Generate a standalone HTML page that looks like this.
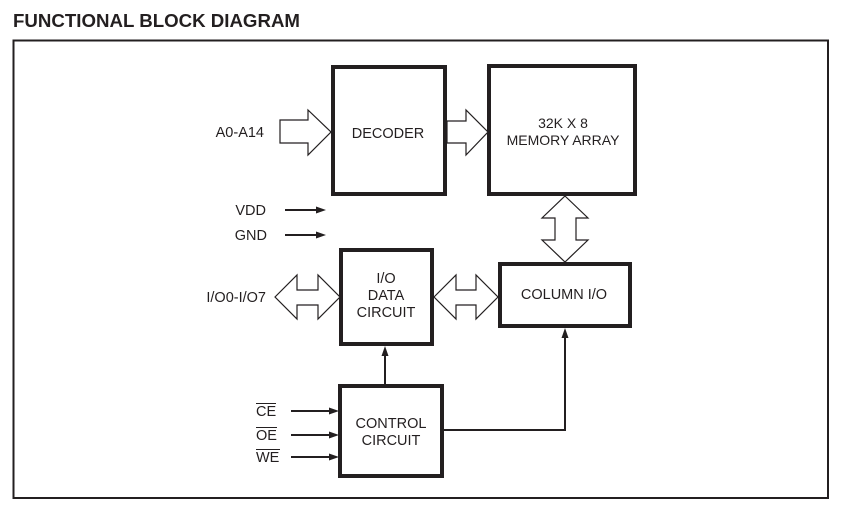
<!DOCTYPE html>
<html><head><style>
html,body{margin:0;padding:0;background:#fff;}
svg{display:block}
text{font-family:"Liberation Sans",Arial,sans-serif;fill:#231f20;}
</style></head><body>
<svg width="842" height="506" viewBox="0 0 842 506" xmlns="http://www.w3.org/2000/svg">
<text x="13" y="27" font-size="18.5" font-weight="bold" textLength="287" lengthAdjust="spacingAndGlyphs">FUNCTIONAL BLOCK DIAGRAM</text>
<rect x="13.5" y="40.5" width="814.5" height="457.5" fill="none" stroke="#231f20" stroke-width="2"/>
<g fill="none" stroke="#231f20" stroke-width="4">
<rect x="333" y="67" width="112" height="127"/>
<rect x="489" y="66" width="146" height="128"/>
<rect x="341" y="250" width="91" height="94"/>
<rect x="500" y="264" width="130" height="62"/>
<rect x="340" y="386" width="102" height="90"/>
</g>
<g fill="#fff" stroke="#231f20" stroke-width="1.2">
<polygon points="280,120 308,120 308,110 331,132 308,155 308,143 280,143"/>
<polygon points="447,121 466,121 466,110 488,132 466,155 466,143 447,143"/>
<polygon points="275,297 297,275 297,290 318,290 318,275 340,297 318,319 318,305 297,305 297,319"/>
<polygon points="434,297 456,275 456,290 476,290 476,275 498,297 476,319 476,305 456,305 456,319"/>
<polygon points="565,196 588,218 576,218 576,240 588,240 565,262 542,240 555,240 555,218 542,218"/>
</g>
<g stroke="#231f20" stroke-width="2" fill="none">
<line x1="285" y1="210" x2="318" y2="210"/>
<line x1="285" y1="235" x2="318" y2="235"/>
<line x1="291" y1="411" x2="332" y2="411"/>
<line x1="291" y1="435" x2="332" y2="435"/>
<line x1="291" y1="457" x2="332" y2="457"/>
<line x1="385" y1="385" x2="385" y2="354"/>
<polyline points="443,430 565,430 565,336"/>
</g>
<g fill="#231f20">
<polygon points="326,210 316,206.5 316,213.5"/>
<polygon points="326,235 316,231.5 316,238.5"/>
<polygon points="339,411 329,407.5 329,414.5"/>
<polygon points="339,435 329,431.5 329,438.5"/>
<polygon points="339,457 329,453.5 329,460.5"/>
<polygon points="385,346 381.5,356 388.5,356"/>
<polygon points="565,328 561.5,338 568.5,338"/>
</g>
<g font-size="14.5">
<text x="264" y="137" text-anchor="end">A0-A14</text>
<text x="388" y="138" text-anchor="middle">DECODER</text>
<text x="563" y="128" text-anchor="middle" font-size="14">32K X 8</text>
<text x="563" y="145" text-anchor="middle" font-size="14">MEMORY ARRAY</text>
<text x="266" y="215" text-anchor="end">VDD</text>
<text x="267" y="240" text-anchor="end">GND</text>
<text x="266" y="302" text-anchor="end">I/O0-I/O7</text>
<text x="386" y="283" text-anchor="middle">I/O</text>
<text x="386" y="300" text-anchor="middle">DATA</text>
<text x="386" y="317" text-anchor="middle">CIRCUIT</text>
<text x="564" y="299" text-anchor="middle">COLUMN I/O</text>
<text x="391" y="428" text-anchor="middle">CONTROL</text>
<text x="391" y="445" text-anchor="middle">CIRCUIT</text>
<text x="256" y="416">CE</text>
<text x="256" y="440">OE</text>
<text x="256" y="462">WE</text>
</g>
<g stroke="#231f20" stroke-width="1">
<line x1="256" y1="403.5" x2="276" y2="403.5"/>
<line x1="256" y1="427.5" x2="277" y2="427.5"/>
<line x1="256" y1="449.5" x2="280" y2="449.5"/>
</g>
</svg>
</body></html>
